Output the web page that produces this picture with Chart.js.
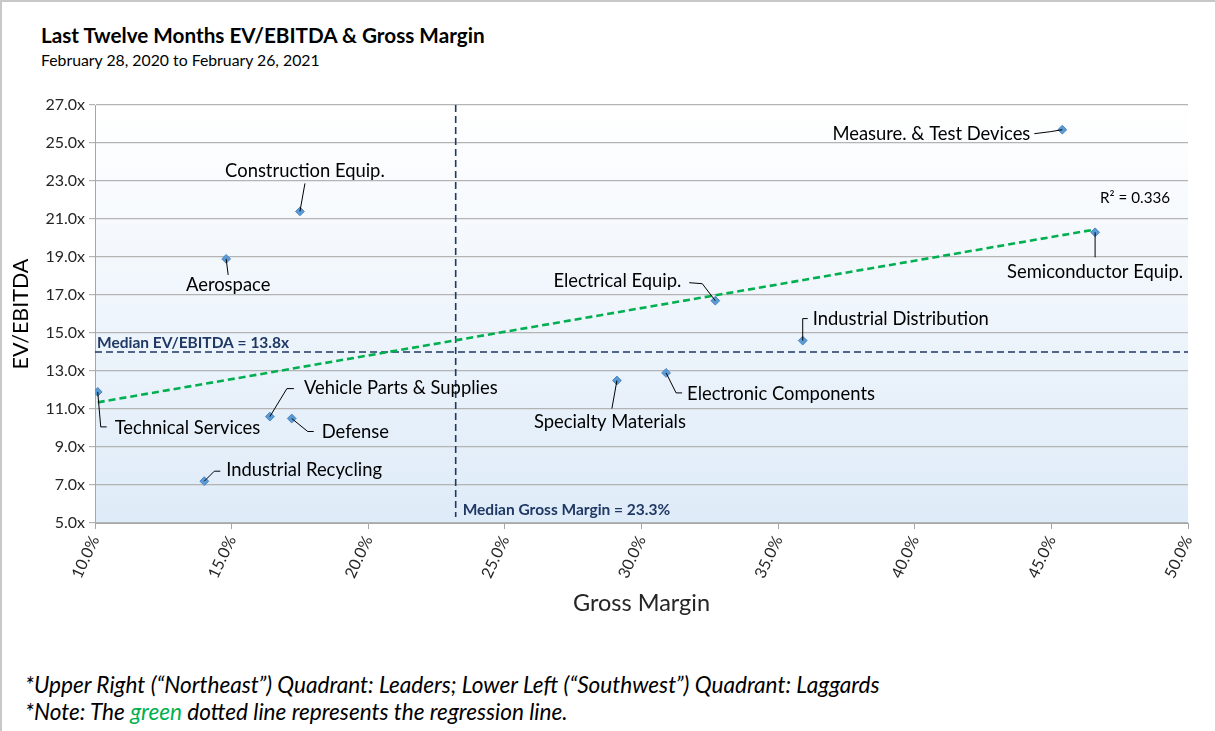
<!DOCTYPE html>
<html>
<head>
<meta charset="utf-8">
<script src="https://cdn.jsdelivr.net/npm/chart.js@4"></script>
<style>
  body { margin: 0; background: #fff; font-family: Lato, "Open Sans", sans-serif; }
  #frame { position: relative; width: 1215px; height: 731px; box-sizing: border-box;
           border-left: 2px solid #c8c8c8; border-top: 2px solid #c8c8c8; overflow: hidden; }
  #title { position: absolute; left: 39px; top: 21px; font-size: 20.7px; font-weight: bold; color: #000; }
  #subtitle { position: absolute; left: 39px; top: 48px; font-size: 15.8px; color: #000; }
  #wrap { position: absolute; left: -2px; top: -2px; width: 1215px; height: 640px; }
  .note { position: absolute; left: 23px; font-size: 22.6px; font-style: italic; color: #000; }
</style>
</head>
<body>
<div id="frame">
  <div id="title">Last Twelve Months EV/EBITDA &amp; Gross Margin</div>
  <div id="subtitle">February 28, 2020 to February 26, 2021</div>
  <div id="wrap"><canvas id="chart"></canvas></div>
  <div class="note" style="top:669px">*Upper Right (“Northeast”) Quadrant: Leaders; Lower Left (“Southwest”) Quadrant: Laggards</div>
  <div class="note" style="top:696px">*Note: The <span style="color:#00b050">green</span> dotted line represents the regression line.</div>
</div>
<script>
// sectors, gross margin (%) and LTM EV/EBITDA (x)
const sectors = [
  'Measure. & Test Devices', 'Semiconductor Equip.', 'Construction Equip.', 'Aerospace',
  'Electrical Equip.', 'Industrial Distribution', 'Electronic Components', 'Specialty Materials',
  'Vehicle Parts & Supplies', 'Defense', 'Technical Services', 'Industrial Recycling'
];
const grossMargin = [45.4, 46.6, 17.5, 14.8, 32.7, 35.9, 30.9, 29.1, 16.4, 17.2, 10.1, 14.0];
const evEbitda    = [25.7, 20.3, 21.4, 18.9, 16.7, 14.6, 12.9, 12.5, 10.6, 10.5, 11.9, 7.2];

// regression line end points
const regX = [10.1, 46.6];
const regY = [11.35, 20.45];
const rSquared = '0.336';

// medians
const medianGrossMargin = 23.2;
const medianEvEbitda = 14.0;
const medianEvEbitdaText = 'Median EV/EBITDA = 13.8x';
const medianGrossMarginText = 'Median Gross Margin = 23.3%';

const xTickValues = [10, 15, 20, 25, 30, 35, 40, 45, 50];
const yTickValues = [5, 7, 9, 11, 13, 15, 17, 19, 21, 23, 25, 27];

// where each data label sits, in pixels from its point
const labelLayout = {
  'Measure. & Test Devices':  { at: [-32, 4],  align: 'right',  leader: [[0, 0], [-12, 2], [-28, 4]] },
  'Semiconductor Equip.':     { at: [0, 40],   align: 'center', leader: [[0, 0], [0, 25]] },
  'Construction Equip.':      { at: [5, -40],  align: 'center', leader: [[0, 0], [5, -28]] },
  'Aerospace':                { at: [2, 26],   align: 'center', leader: [[0, 0], [2, 16]] },
  'Electrical Equip.':        { at: [-34, -20], align: 'right', leader: [[0, 0], [-13, -17], [-26, -18]] },
  'Industrial Distribution':  { at: [10, -22], align: 'left',   leader: [[0, 0], [0, -22], [5, -22]] },
  'Electronic Components':    { at: [21, 21],  align: 'left',   leader: [[0, 0], [10, 20], [16, 20]] },
  'Specialty Materials':      { at: [-7, 42],  align: 'center', leader: [[0, 0], [-5, 28]] },
  'Vehicle Parts & Supplies': { at: [34, -29], align: 'left',   leader: [[0, 0], [17, -28], [24, -28]] },
  'Defense':                  { at: [30, 14],  align: 'left',   leader: [[0, 0], [16, 13], [22, 13]] },
  'Technical Services':       { at: [17, 36],  align: 'left',   leader: [[0, 0], [3, 35], [9, 35]] },
  'Industrial Recycling':     { at: [22, -11], align: 'left',   leader: [[0, 0], [10, -10], [16, -10]] }
};

const FONT = 'Lato, "Open Sans", sans-serif';
const NAVY = '#1f3864';

const plotBackground = {
  id: 'plotBackground',
  beforeDraw(chart) {
    const { ctx, chartArea: a } = chart;
    const g = ctx.createLinearGradient(0, a.top, 0, a.bottom);
    g.addColorStop(0, '#ffffff');
    g.addColorStop(1, '#deebf8');
    ctx.save();
    ctx.fillStyle = g;
    ctx.fillRect(a.left, a.top, a.right - a.left, a.bottom - a.top);
    ctx.restore();
  }
};

const medianLines = {
  id: 'medianLines',
  beforeDatasetsDraw(chart) {
    const { ctx, chartArea: a, scales: { x, y } } = chart;
    const mx = x.getPixelForValue(medianGrossMargin);
    const my = y.getPixelForValue(medianEvEbitda);
    ctx.save();
    ctx.strokeStyle = NAVY;
    ctx.lineWidth = 1.6;
    ctx.setLineDash([7, 4]);
    ctx.beginPath();
    ctx.moveTo(mx, a.top);
    ctx.lineTo(mx, a.bottom - 6);
    ctx.moveTo(a.left, my);
    ctx.lineTo(a.right, my);
    ctx.stroke();
    ctx.setLineDash([]);
    ctx.fillStyle = NAVY;
    ctx.font = 'bold 15.5px ' + FONT;
    ctx.textBaseline = 'alphabetic';
    ctx.textAlign = 'left';
    ctx.fillText(medianEvEbitdaText, a.left + 2, my - 4);
    ctx.fillText(medianGrossMarginText, mx + 7, a.bottom - 8);
    ctx.restore();
  }
};

const pointLabels = {
  id: 'pointLabels',
  afterDatasetsDraw(chart) {
    const { ctx, scales: { x, y } } = chart;
    ctx.save();
    ctx.strokeStyle = '#000';
    ctx.lineWidth = 1;
    ctx.fillStyle = '#000';
    ctx.font = '18.4px ' + FONT;
    ctx.textBaseline = 'middle';
    sectors.forEach((name, i) => {
      const px = x.getPixelForValue(grossMargin[i]);
      const py = y.getPixelForValue(evEbitda[i]);
      const l = labelLayout[name];
      ctx.beginPath();
      l.leader.forEach((p, k) => k ? ctx.lineTo(px + p[0], py + p[1]) : ctx.moveTo(px + p[0], py + p[1]));
      ctx.stroke();
      ctx.textAlign = l.align;
      ctx.fillText(name, px + l.at[0], py + l.at[1]);
    });
    // r squared
    const rx = x.getPixelForValue(regX[1]);
    const ry = y.getPixelForValue(regY[1]);
    ctx.font = '15.2px ' + FONT;
    ctx.textAlign = 'center';
    ctx.fillText('R² = ' + rSquared, rx + 40, ry - 31);
    ctx.restore();
  }
};

new Chart(document.getElementById('chart'), {
  type: 'scatter',
  data: {
    datasets: [
      {
        label: 'Sectors',
        data: sectors.map((s, i) => ({ x: grossMargin[i], y: evEbitda[i] })),
        pointStyle: 'rectRot',
        pointRadius: 4.4,
        backgroundColor: '#5b9bd5',
        borderColor: '#4a86c4',
        borderWidth: 1,
        order: 1
      },
      {
        label: 'Regression',
        type: 'line',
        data: regX.map((v, i) => ({ x: v, y: regY[i] })),
        borderColor: '#00b050',
        borderWidth: 2.6,
        borderDash: [7, 4],
        pointRadius: 0,
        fill: false,
        order: 2
      }
    ]
  },
  options: {
    responsive: true,
    maintainAspectRatio: false,
    animation: false,
    events: [],
    layout: { padding: { top: 105, right: 27, left: 0, bottom: 0 } },
    plugins: { legend: { display: false }, tooltip: { enabled: false } },
    scales: {
      x: {
        type: 'linear',
        min: 10, max: 50,
        afterBuildTicks: s => { s.ticks = xTickValues.map(v => ({ value: v })); },
        afterFit: s => { s.height = 117; },
        grid: { drawOnChartArea: false, drawTicks: true, tickLength: 6, color: '#a6a6a6' },
        border: { color: '#a6a6a6' },
        ticks: {
          minRotation: 65, maxRotation: 65, padding: 4,
          color: '#262626', font: { family: FONT, size: 16 },
          callback: v => v.toFixed(1) + '%'
        },
        title: {
          display: true, text: 'Gross Margin', color: '#262626',
          font: { family: FONT, size: 23.5 }, padding: { top: 0, bottom: 22 }
        }
      },
      y: {
        min: 5, max: 27,
        afterBuildTicks: s => { s.ticks = yTickValues.map(v => ({ value: v })); },
        afterFit: s => { s.width = 95; },
        grid: { color: '#b4b4b4', tickLength: 6, lineWidth: 1.2 },
        border: { color: '#a6a6a6' },
        ticks: {
          padding: 4, color: '#262626', font: { family: FONT, size: 16 },
          callback: v => v.toFixed(1) + 'x'
        },
        title: {
          display: true, text: 'EV/EBITDA', color: '#000',
          font: { family: FONT, size: 21.5 }, padding: { top: 8, bottom: 0 }
        }
      }
    }
  },
  plugins: [plotBackground, medianLines, pointLabels]
});
</script>
</body>
</html>
